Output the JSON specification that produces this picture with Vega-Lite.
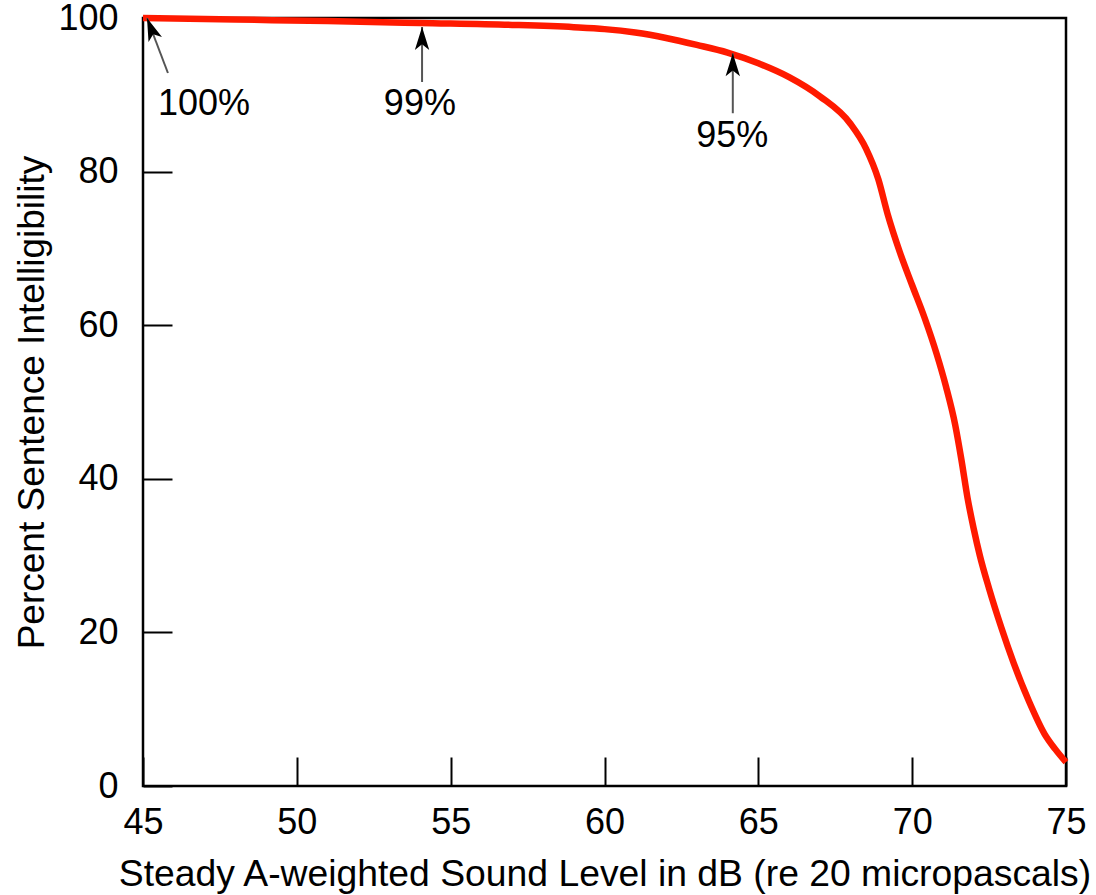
{
  "$schema": "https://vega.github.io/schema/vega-lite/v6.json",
  "width": 923,
  "height": 768,
  "autosize": {"type": "none"},
  "padding": {"left": 143, "top": 18, "right": 30, "bottom": 109},
  "background": "white",
  "config": {
    "font": "Liberation Sans",
    "view": {"stroke": "black", "strokeWidth": 2.5}
  },
  "datasets": {
    "curve": [
      {"level": 45, "pct": 100},
      {"level": 48, "pct": 99.8},
      {"level": 51, "pct": 99.6},
      {"level": 54, "pct": 99.35},
      {"level": 57, "pct": 99.1},
      {"level": 59, "pct": 98.8},
      {"level": 60, "pct": 98.55},
      {"level": 61, "pct": 98.1},
      {"level": 62, "pct": 97.4},
      {"level": 63, "pct": 96.5},
      {"level": 64, "pct": 95.5},
      {"level": 65, "pct": 94.1},
      {"level": 66, "pct": 92.3},
      {"level": 67, "pct": 89.8},
      {"level": 68, "pct": 86.2},
      {"level": 68.5, "pct": 83.0},
      {"level": 68.9, "pct": 79.0},
      {"level": 69.2, "pct": 74.5},
      {"level": 69.6, "pct": 69.5},
      {"level": 70, "pct": 65.2},
      {"level": 70.4, "pct": 61.0},
      {"level": 70.8, "pct": 56.2},
      {"level": 71.1, "pct": 52.0},
      {"level": 71.4, "pct": 47.0},
      {"level": 71.6, "pct": 42.5},
      {"level": 71.8, "pct": 37.5},
      {"level": 72.0, "pct": 33.5},
      {"level": 72.2, "pct": 30.0},
      {"level": 72.5, "pct": 25.7},
      {"level": 72.9, "pct": 20.6},
      {"level": 73.3, "pct": 16.0},
      {"level": 73.8, "pct": 11.0},
      {"level": 74.3, "pct": 6.8},
      {"level": 74.65, "pct": 4.8},
      {"level": 75, "pct": 3.1}
    ],
    "arrows": [
      {"name": "100%", "x1": 45.81, "y1": 92.84, "x2": 45.13, "y2": 100},
      {"name": "99%", "x1": 54.07, "y1": 91.67, "x2": 54.07, "y2": 98.83},
      {"name": "95%", "x1": 64.17, "y1": 87.6, "x2": 64.17, "y2": 95.4}
    ],
    "labels": [
      {"label": "100%", "lx": 46.98, "ly": 88.8},
      {"label": "99%", "lx": 54.0, "ly": 88.8},
      {"label": "95%", "lx": 64.15, "ly": 84.7}
    ]
  },
  "layer": [
    {
      "data": {"name": "curve"},
      "mark": {"type": "line", "color": "#ff1a00", "strokeWidth": 6.5, "interpolate": "monotone"},
      "encoding": {
        "x": {
          "field": "level", "type": "quantitative",
          "scale": {"domain": [45, 75], "nice": false, "zero": false},
          "axis": {
            "values": [45, 50, 55, 60, 65, 70, 75],
            "tickSize": -29, "tickColor": "black", "tickWidth": 2,
            "domain": false, "grid": false,
            "labelFontSize": 36, "labelColor": "black", "labelPadding": 48,
            "labelFlush": false, "labelOverlap": false,
            "title": "Steady A-weighted Sound Level in dB (re 20 micropascals)",
            "titleFontSize": 37.3, "titleFontWeight": "normal", "titleColor": "black",
            "titleY": 99, "titleBaseline": "alphabetic"
          }
        },
        "y": {
          "field": "pct", "type": "quantitative",
          "scale": {"domain": [0, 100], "nice": false},
          "axis": {
            "values": [0, 20, 40, 60, 80, 100],
            "tickSize": -29, "tickColor": "black", "tickWidth": 2,
            "domain": false, "grid": false,
            "labelFontSize": 36, "labelColor": "black", "labelPadding": 54,
            "labelFlush": false, "labelOverlap": false,
            "title": "Percent Sentence Intelligibility",
            "titleFontSize": 37, "titleFontWeight": "normal", "titleColor": "black",
            "titleX": -100, "titleBaseline": "alphabetic"
          }
        }
      }
    },
    {
      "data": {"name": "arrows"},
      "mark": {"type": "rule", "color": "#555555", "strokeWidth": 2},
      "encoding": {
        "x": {"field": "x1", "type": "quantitative"},
        "y": {"field": "y1", "type": "quantitative"},
        "x2": {"field": "x2"},
        "y2": {"field": "y2"}
      }
    },
    {
      "data": {"name": "arrows"},
      "transform": [{"filter": "datum.name !== '100%'"}],
      "mark": {"type": "point", "shape": "M0,0 L0.5,1.6 L0,1.2 L-0.5,1.6 Z", "filled": true, "color": "black", "opacity": 1, "size": 829},
      "encoding": {
        "x": {"field": "x2", "type": "quantitative"},
        "y": {"field": "y2", "type": "quantitative"}
      }
    },
    {
      "data": {"name": "arrows"},
      "transform": [{"filter": "datum.name === '100%'"}],
      "mark": {"type": "point", "shape": "M0,0 L0.5,1.6 L0,1.2 L-0.5,1.6 Z", "filled": true, "color": "black", "opacity": 1, "size": 829, "angle": 339},
      "encoding": {
        "x": {"field": "x2", "type": "quantitative"},
        "y": {"field": "y2", "type": "quantitative"}
      }
    },
    {
      "data": {"name": "labels"},
      "mark": {"type": "text", "fontSize": 36, "color": "black", "align": "center", "baseline": "middle"},
      "encoding": {
        "x": {"field": "lx", "type": "quantitative"},
        "y": {"field": "ly", "type": "quantitative"},
        "text": {"field": "label"}
      }
    }
  ]
}
